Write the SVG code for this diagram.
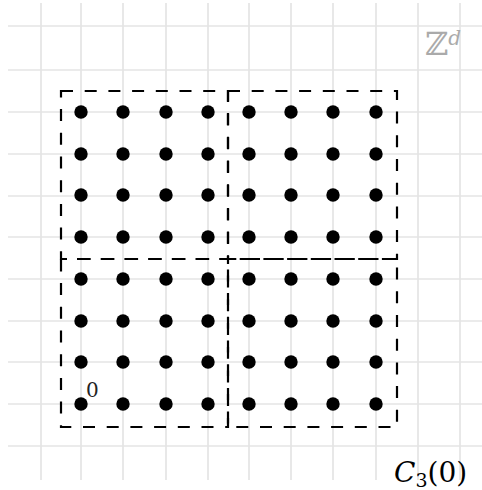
<svg xmlns="http://www.w3.org/2000/svg" width="482" height="490" viewBox="0 0 482 490">
<defs>
<style>
.grid line{stroke:#e4e4e4;stroke-width:1.7}
.box{fill:none;stroke:#000;stroke-width:2.2;stroke-dasharray:12 11.7}
.dot{fill:#000}
.lbl{font-family:"DejaVu Serif","Liberation Serif",serif}
</style>
<circle id="d" r="6.7" class="dot"/>
</defs>
<rect width="482" height="490" fill="#fff"/>
<g class="grid">
<line x1="41" y1="3" x2="41" y2="480"/>
<line x1="81" y1="3" x2="81" y2="480"/>
<line x1="123" y1="3" x2="123" y2="480"/>
<line x1="166" y1="3" x2="166" y2="480"/>
<line x1="208" y1="3" x2="208" y2="480"/>
<line x1="249" y1="3" x2="249" y2="480"/>
<line x1="291" y1="3" x2="291" y2="480"/>
<line x1="333" y1="3" x2="333" y2="480"/>
<line x1="376" y1="3" x2="376" y2="480"/>
<line x1="418" y1="3" x2="418" y2="480"/>
<line x1="460" y1="3" x2="460" y2="480"/>
<line x1="8" y1="26" x2="482" y2="26"/>
<line x1="8" y1="70" x2="482" y2="70"/>
<line x1="8" y1="112" x2="482" y2="112"/>
<line x1="8" y1="154" x2="482" y2="154"/>
<line x1="8" y1="196" x2="482" y2="196"/>
<line x1="8" y1="237" x2="482" y2="237"/>
<line x1="8" y1="279" x2="482" y2="279"/>
<line x1="8" y1="321" x2="482" y2="321"/>
<line x1="8" y1="362" x2="482" y2="362"/>
<line x1="8" y1="404" x2="482" y2="404"/>
<line x1="8" y1="446" x2="482" y2="446"/>
</g>
<g id="boxes">
<path class="box" d="M61,91 H228 V259 H61 Z" stroke-dashoffset="0"/>
<path class="box" d="M228,91 H397 V259 H228 Z" stroke-dashoffset="0"/>
<path class="box" d="M61,259 H228 V427 H61 Z" stroke-dashoffset="6"/>
<path class="box" d="M228,259 H397 V427 H228 Z" stroke-dashoffset="12"/>
</g>
<g id="points">
<g transform="translate(0,112)"><use href="#d" x="81"/><use href="#d" x="123"/><use href="#d" x="166"/><use href="#d" x="208"/><use href="#d" x="249"/><use href="#d" x="291"/><use href="#d" x="333"/><use href="#d" x="376"/></g>
<g transform="translate(0,154)"><use href="#d" x="81"/><use href="#d" x="123"/><use href="#d" x="166"/><use href="#d" x="208"/><use href="#d" x="249"/><use href="#d" x="291"/><use href="#d" x="333"/><use href="#d" x="376"/></g>
<g transform="translate(0,195)"><use href="#d" x="81"/><use href="#d" x="123"/><use href="#d" x="166"/><use href="#d" x="208"/><use href="#d" x="249"/><use href="#d" x="291"/><use href="#d" x="333"/><use href="#d" x="376"/></g>
<g transform="translate(0,237)"><use href="#d" x="81"/><use href="#d" x="123"/><use href="#d" x="166"/><use href="#d" x="208"/><use href="#d" x="249"/><use href="#d" x="291"/><use href="#d" x="333"/><use href="#d" x="376"/></g>
<g transform="translate(0,279)"><use href="#d" x="81"/><use href="#d" x="123"/><use href="#d" x="166"/><use href="#d" x="208"/><use href="#d" x="249"/><use href="#d" x="291"/><use href="#d" x="333"/><use href="#d" x="376"/></g>
<g transform="translate(0,321)"><use href="#d" x="81"/><use href="#d" x="123"/><use href="#d" x="166"/><use href="#d" x="208"/><use href="#d" x="249"/><use href="#d" x="291"/><use href="#d" x="333"/><use href="#d" x="376"/></g>
<g transform="translate(0,362)"><use href="#d" x="81"/><use href="#d" x="123"/><use href="#d" x="166"/><use href="#d" x="208"/><use href="#d" x="249"/><use href="#d" x="291"/><use href="#d" x="333"/><use href="#d" x="376"/></g>
<g transform="translate(0,404)"><use href="#d" x="81"/><use href="#d" x="123"/><use href="#d" x="166"/><use href="#d" x="208"/><use href="#d" x="249"/><use href="#d" x="291"/><use href="#d" x="333"/><use href="#d" x="376"/></g>
</g>
<g id="labels" class="lbl">
<text x="425" y="55" font-size="32" fill="#aaaaaa">ℤ<tspan font-size="20" dy="-10" font-style="italic">d</tspan></text>
<text x="86" y="397" font-size="20" fill="#222">0</text>
<text x="394" y="482" font-size="28" fill="#000"><tspan font-style="italic">C</tspan><tspan font-size="19" dy="5">3</tspan><tspan dy="-5">(0)</tspan></text>
</g>
</svg>
